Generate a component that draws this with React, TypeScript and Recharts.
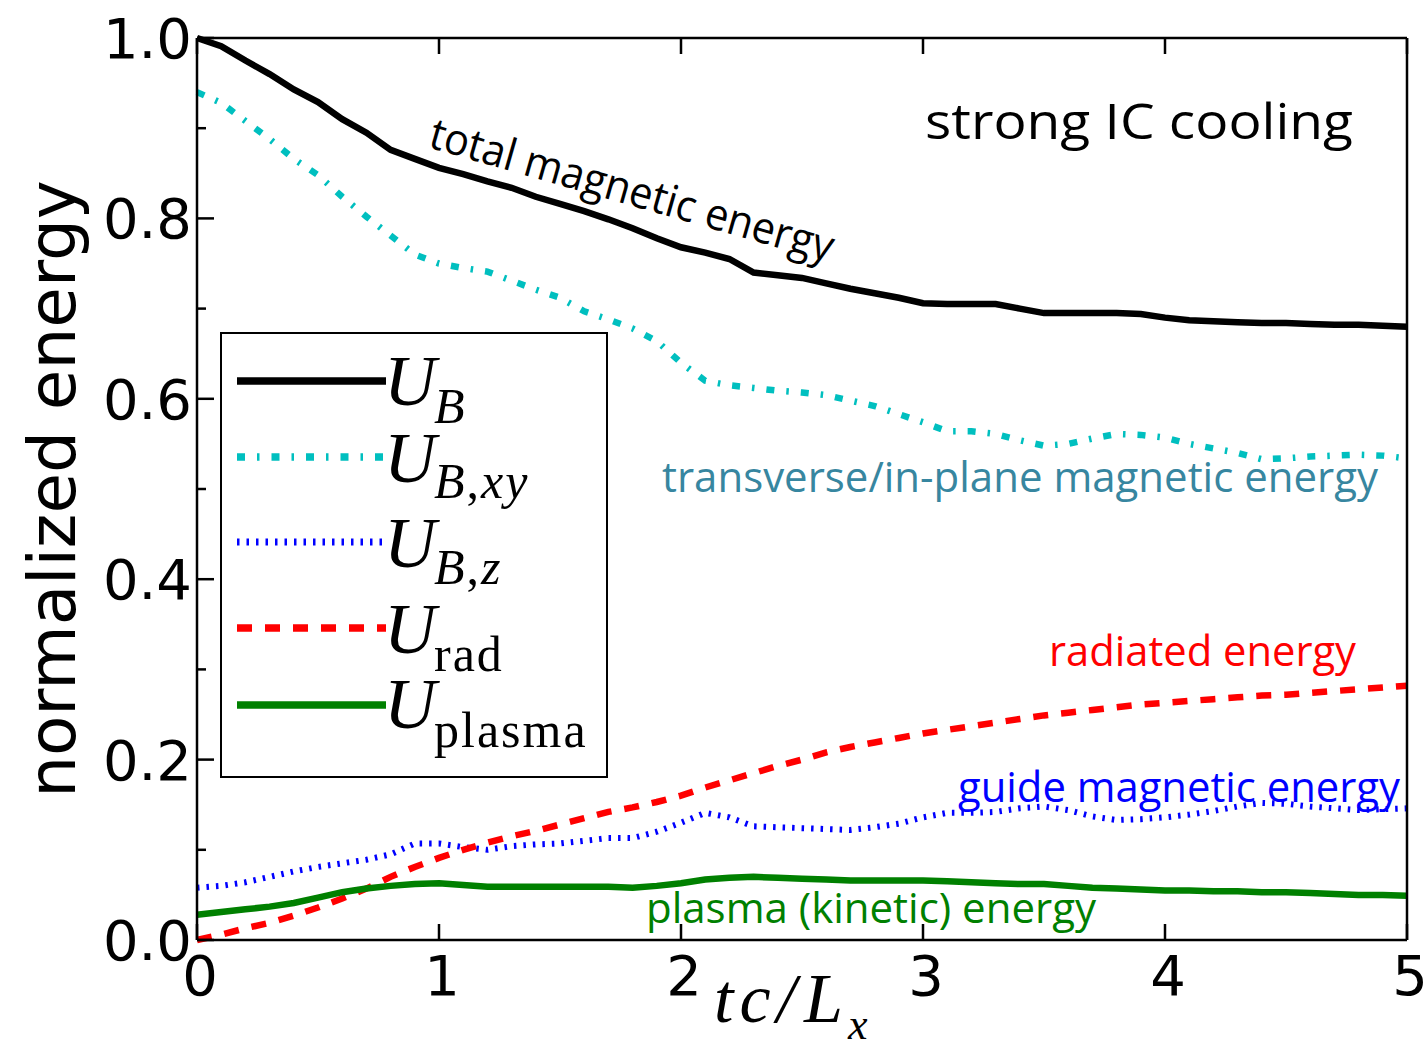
import React from 'react';
import { LineChart, Line, XAxis, YAxis, Customized } from 'recharts';

// time in units of L_x / c
const time = [
  0, 0.1, 0.2, 0.3, 0.4, 0.5, 0.6, 0.7, 0.8, 0.9,
  1, 1.1, 1.2, 1.3, 1.4, 1.5, 1.6, 1.7, 1.8, 1.9,
  2, 2.1, 2.2, 2.3, 2.4, 2.5, 2.6, 2.7, 2.8, 2.9,
  3, 3.1, 3.2, 3.3, 3.4, 3.5, 3.6, 3.7, 3.8, 3.9,
  4, 4.1, 4.2, 4.3, 4.4, 4.5, 4.6, 4.7, 4.8, 4.9,
  5,
];

const totalMagnetic = [
  1.0, 0.991, 0.975, 0.96, 0.943, 0.929, 0.91, 0.895, 0.876, 0.866,
  0.856, 0.849, 0.841, 0.834, 0.824, 0.816, 0.808, 0.799, 0.789, 0.778,
  0.768, 0.762, 0.755, 0.74, 0.737, 0.734, 0.728, 0.722, 0.717, 0.712,
  0.706, 0.705, 0.705, 0.705, 0.7, 0.695, 0.695, 0.695, 0.695, 0.694,
  0.69, 0.687, 0.686, 0.685, 0.684, 0.684, 0.683, 0.682, 0.682, 0.681,
  0.68,
];

const inPlaneMagnetic = [
  0.94, 0.928, 0.908, 0.888, 0.866, 0.848, 0.824, 0.802, 0.781, 0.76,
  0.75, 0.745, 0.741, 0.731, 0.721, 0.712, 0.697, 0.688, 0.678, 0.664,
  0.64, 0.62, 0.615, 0.612, 0.609, 0.607, 0.604, 0.598, 0.592, 0.583,
  0.574, 0.564, 0.564, 0.561, 0.554, 0.548, 0.55, 0.556, 0.561, 0.56,
  0.557, 0.55, 0.545, 0.54, 0.533, 0.534, 0.536, 0.537, 0.538, 0.537,
  0.534,
];

const guideMagnetic = [
  0.058, 0.06, 0.064, 0.07, 0.076, 0.081, 0.085, 0.089, 0.095, 0.107,
  0.107, 0.103, 0.1, 0.104, 0.106, 0.107, 0.11, 0.113, 0.113, 0.12,
  0.13, 0.141, 0.136, 0.126, 0.125, 0.124, 0.123, 0.122, 0.125, 0.129,
  0.136, 0.141, 0.141, 0.142, 0.146, 0.148, 0.144, 0.137, 0.133, 0.134,
  0.136, 0.139, 0.143, 0.148, 0.152, 0.151, 0.148, 0.146, 0.144, 0.145,
  0.146,
];

const radiated = [
  0.0, 0.006, 0.013, 0.019, 0.027, 0.036, 0.046, 0.057, 0.07, 0.081,
  0.091, 0.1, 0.108, 0.115, 0.121, 0.128, 0.135, 0.142, 0.147, 0.153,
  0.16, 0.169, 0.177, 0.185, 0.193, 0.2, 0.208, 0.214, 0.219, 0.224,
  0.229, 0.233, 0.237, 0.241, 0.245, 0.249, 0.252, 0.255, 0.258, 0.261,
  0.263, 0.265, 0.267, 0.269, 0.271, 0.272, 0.274, 0.276, 0.278, 0.28,
  0.282,
];

const plasma = [
  0.028, 0.031, 0.034, 0.037, 0.041, 0.047, 0.053, 0.057, 0.06, 0.062,
  0.063, 0.061, 0.059, 0.059, 0.059, 0.059, 0.059, 0.059, 0.058, 0.06,
  0.063, 0.067, 0.069, 0.07, 0.069, 0.068, 0.067, 0.066, 0.066, 0.066,
  0.066, 0.065, 0.064, 0.063, 0.062, 0.062, 0.06, 0.058, 0.057, 0.056,
  0.055, 0.055, 0.054, 0.054, 0.053, 0.053, 0.052, 0.051, 0.05, 0.05,
  0.049,
];

const xTicks = [0, 1, 2, 3, 4, 5];
const yTicks = [0, 0.1, 0.2, 0.3, 0.4, 0.5, 0.6, 0.7, 0.8, 0.9, 1.0];

const series = [
  { key: 'UB', name: 'U_B', color: '#000000', dash: undefined, width: 6.5 },
  { key: 'UBxy', name: 'U_B,xy', color: '#00bfbf', dash: '8 12 2.5 12', width: 6.5 },
  { key: 'UBz', name: 'U_B,z', color: '#0000ff', dash: '2.5 7', width: 6 },
  { key: 'Urad', name: 'U_rad', color: '#ff0000', dash: '15 13', width: 6.5 },
  { key: 'Uplasma', name: 'U_plasma', color: '#008000', dash: undefined, width: 6.5 },
];

const data = time.map((t, i) => ({
  t,
  UB: totalMagnetic[i],
  UBxy: inPlaneMagnetic[i],
  UBz: guideMagnetic[i],
  Urad: radiated[i],
  Uplasma: plasma[i],
}));

const SANS = 'DejaVu Sans';
const SERIF = 'Liberation Serif';
const LABEL_FONT = 'Open Sans';

const isMajor = (v: number) => Math.round(v * 10) % 2 === 0;

function LeftTick(props: any) {
  const { x, y, payload } = props;
  const v = payload.value as number;
  const major = isMajor(v);
  return (
    <g>
      <line x1={x} x2={x + (major ? 17 : 9)} y1={y} y2={y} stroke="#000" strokeWidth={2.5} />
      {major && (
        <text x={x - 5} y={y} dy={20} textAnchor="end" fontFamily={SANS} fontSize={56} fill="#000">
          {v.toFixed(1)}
        </text>
      )}
    </g>
  );
}

function RightTick(props: any) {
  const { x, y, payload } = props;
  const major = isMajor(payload.value);
  return <line x1={x} x2={x - (major ? 17 : 9)} y1={y} y2={y} stroke="#000" strokeWidth={2.5} />;
}

function BottomTick(props: any) {
  const { x, y, payload } = props;
  return (
    <g>
      <line x1={x} x2={x} y1={y} y2={y - 16} stroke="#000" strokeWidth={2.5} />
      <text x={x + 3} y={y + 55} textAnchor="middle" fontFamily={SANS} fontSize={56} fill="#000">
        {payload.value}
      </text>
    </g>
  );
}

function TopTick(props: any) {
  const { x, y } = props;
  return <line x1={x} x2={x} y1={y} y2={y + 16} stroke="#000" strokeWidth={2.5} />;
}

function YTitle(props: any) {
  const { viewBox } = props;
  const cx = viewBox.x + 52;
  const cy = viewBox.y + viewBox.height / 2;
  return (
    <text
      x={cx}
      y={cy}
      transform={`rotate(-90 ${cx} ${cy})`}
      textAnchor="middle"
      dominantBaseline="central"
      fontFamily={SANS}
      fontSize={66}
      fill="#000"
    >
      normalized energy
    </text>
  );
}

function XTitle(props: any) {
  const { viewBox } = props;
  const x0 = viewBox.x + viewBox.width / 2 - 88;
  const base = viewBox.y + 82;
  return (
    <g fontFamily={SERIF} fontStyle="italic" fill="#000">
      <text x={x0} y={base} fontSize={70}>
        <tspan>t</tspan>
        <tspan dx={6}>c</tspan>
        <tspan dx={6}>/</tspan>
        <tspan dx={8}>L</tspan>
      </text>
      <text x={x0 + 134} y={base + 17} fontSize={44}>
        x
      </text>
    </g>
  );
}

const legendRows = [
  { lineY: 381, base: 405, subBase: 423, sub: [['B', true]] },
  { lineY: 457, base: 482, subBase: 498, sub: [['B', true], [',', false], ['xy', true]] },
  { lineY: 542, base: 567, subBase: 584, sub: [['B', true], [',', false], ['z', true]] },
  { lineY: 628, base: 653, subBase: 671, sub: [['rad', false]] },
  { lineY: 705, base: 728, subBase: 747, sub: [['plasma', false]] },
];

function LegendBox() {
  return (
    <g>
      <rect x={221} y={333} width={386} height={444} fill="#fff" stroke="#000" strokeWidth={2} />
      {series.map((s, i) => {
        const row = legendRows[i];
        return (
          <g key={s.key}>
            <line
              x1={237}
              x2={386}
              y1={row.lineY}
              y2={row.lineY}
              stroke={s.color}
              strokeWidth={s.width + 1}
              strokeDasharray={s.dash}
            />
            <text x={384} y={row.base} fontFamily={SERIF} fontStyle="italic" fontSize={72} fill="#000">
              U
            </text>
            <text x={434} y={row.subBase} fontFamily={SERIF} fontSize={50} letterSpacing={2} fill="#000">
              {row.sub.map(([t, it], j) => (
                <tspan key={j} fontStyle={it ? 'italic' : 'normal'}>
                  {t as string}
                </tspan>
              ))}
            </text>
          </g>
        );
      })}
    </g>
  );
}

function Annotations() {
  return (
    <g fontFamily={LABEL_FONT}>
      <text x={925} y={139} fontSize={50} textLength={428} lengthAdjust="spacingAndGlyphs" fill="#000">
        strong IC cooling
      </text>
      <text
        x={427}
        y={147}
        transform="rotate(16 427 147)"
        fontSize={44}
        textLength={418}
        lengthAdjust="spacingAndGlyphs"
        fill="#000"
      >
        total magnetic energy
      </text>
      <text x={662} y={492} fontSize={42} textLength={716} lengthAdjust="spacingAndGlyphs" fill="#3786a0">
        transverse/in-plane magnetic energy
      </text>
      <text x={1049} y={666} fontSize={42} textLength={307} lengthAdjust="spacingAndGlyphs" fill="#ff0000">
        radiated energy
      </text>
      <text x={958} y={802} fontSize={42} textLength={442} lengthAdjust="spacingAndGlyphs" fill="#0000ff">
        guide magnetic energy
      </text>
      <text x={646} y={923} fontSize={42} textLength={450} lengthAdjust="spacingAndGlyphs" fill="#008000">
        plasma (kinetic) energy
      </text>
    </g>
  );
}

const axisLine = { stroke: '#000', strokeWidth: 2.5 };

export default function App() {
  return (
    <div style={{ position: 'absolute', left: 0, top: 0, width: 1428, height: 1049, background: '#fff' }}>
      <LineChart width={1428} height={1049} data={data} margin={{ top: 0, right: 0, bottom: 0, left: 0 }}>
        <XAxis
          xAxisId="bottom"
          dataKey="t"
          type="number"
          domain={[0, 5]}
          ticks={xTicks}
          interval={0}
          height={109}
          tickSize={0}
          tickMargin={0}
          tickLine={false}
          axisLine={axisLine}
          tick={<BottomTick />}
          label={{ content: <XTitle /> }}
        />
        <XAxis
          xAxisId="top"
          orientation="top"
          dataKey="t"
          type="number"
          domain={[0, 5]}
          ticks={xTicks}
          interval={0}
          height={38}
          tickSize={0}
          tickMargin={0}
          tickLine={false}
          axisLine={axisLine}
          tick={<TopTick />}
        />
        <YAxis
          yAxisId="left"
          type="number"
          domain={[0, 1]}
          ticks={yTicks}
          interval={0}
          width={197}
          tickSize={0}
          tickMargin={0}
          tickLine={false}
          axisLine={axisLine}
          tick={<LeftTick />}
          label={{ content: <YTitle /> }}
        />
        <YAxis
          yAxisId="right"
          orientation="right"
          type="number"
          domain={[0, 1]}
          ticks={yTicks}
          interval={0}
          width={21}
          tickSize={0}
          tickMargin={0}
          tickLine={false}
          axisLine={axisLine}
          tick={<RightTick />}
        />
        {series.map((s) => (
          <Line
            key={s.key}
            xAxisId="bottom"
            yAxisId="left"
            dataKey={s.key}
            name={s.name}
            type="linear"
            stroke={s.color}
            strokeWidth={s.width}
            strokeDasharray={s.dash}
            dot={false}
            activeDot={false}
            isAnimationActive={false}
          />
        ))}
        <Customized component={<Annotations />} />
        <Customized component={<LegendBox />} />
      </LineChart>
    </div>
  );
}
